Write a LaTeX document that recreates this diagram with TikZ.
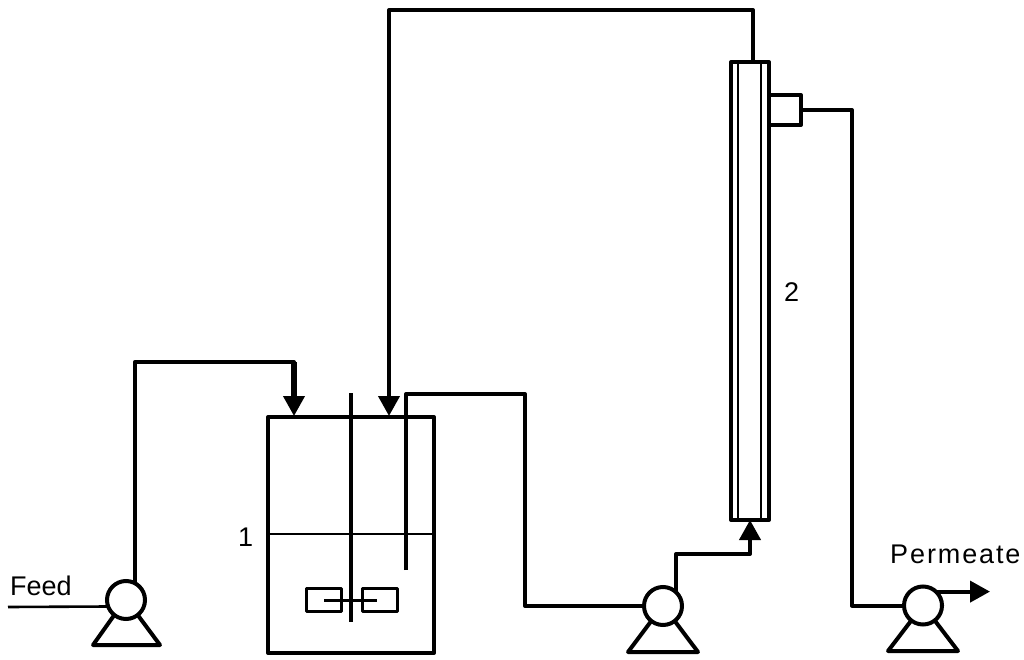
\documentclass[tikz,border=0pt]{standalone}
\usepackage{fontspec}
\setmainfont{Liberation Sans}
\usetikzlibrary{arrows.meta,calc}
\tikzset{
  pipe/.style={line width=4pt,line join=round},
  thinline/.style={line width=2.6pt},
  flow/.style={pipe,-{Triangle[length=20pt,width=21pt]}},
  pump/.style={circle,draw,line width=4pt,minimum size=38pt,inner sep=0pt,outer sep=0pt},
  vessel/.style={rectangle,draw,line width=4pt,line join=round,inner sep=0pt,outer sep=0pt},
  blade/.style={rectangle,draw,line width=3.6pt,line join=round,inner sep=0pt,outer sep=0pt,minimum width=35pt,minimum height=23pt},
  lab/.style={inner sep=0pt,anchor=base west,font=\fontsize{27}{27}\selectfont}
}
\begin{document}
\begin{tikzpicture}[x=1pt,y=-1pt]
\useasboundingbox (0,0) rectangle (1024,660);
% equipment
\node[vessel,minimum width=166pt,minimum height=236pt] (tank) at (351,535) {};
\node[vessel,minimum width=38pt,minimum height=458pt] (module) at (750,291) {};
\node[vessel,minimum width=32pt,minimum height=30pt,anchor=west] (perm) at (769,110) {};
\node[pump] (p1) at (126,600) {};
\node[pump] (p2) at (663,606) {};
\node[pump] (p3) at (923,605.5) {};
\node[blade] (bl) at (324,600) {};
\node[blade] (br) at (380,600) {};
% named free ends and bends
\coordinate (feed) at (8,607);
\coordinate (b1l) at (93,645); \coordinate (b1r) at (160,645);
\coordinate (b2l) at (628,652); \coordinate (b2r) at (698,652);
\coordinate (b3l) at (888,651); \coordinate (b3r) at (958,651);
\coordinate (shafttop) at (351,393); \coordinate (shaftend) at (351,622);
\coordinate (hubl) at (324,600); \coordinate (hubr) at (377,600);
\coordinate (dipend) at (406,570);
\coordinate (permout) at (990,591);
\coordinate (modin) at (753,62);
% pump bases
\draw[pipe] (p1.-128) -- (b1l) -- (b1r) -- (p1.-52);
\draw[pipe] (p2.-128) -- (b2l) -- (b2r) -- (p2.-52);
\draw[pipe] (p3.-128) -- (b3l) -- (b3r) -- (p3.-52);
% tank internals
\draw[thinline] (tank.west |- 0,534) -- (tank.east |- 0,534);
\draw[pipe] (shafttop) -- (shaftend);
\draw[pipe,line width=3pt] (hubl) -- (hubr);
% feed
\draw[thinline] (feed) -- (p1.200);
\draw[flow] (p1.62) |- (294,362) -- (294,416);
\draw[line width=5.5pt] (294,362) -- (294,398);
% recycle
\draw[flow] (modin) |- (389,10) -- (389,416);
% dip tube to pump 2
\draw[pipe] (dipend) |- (525,394) |- (p2.west);
% pump 2 to module
\draw[flow] (p2.47) |- (750,554) -- (module.south);
% permeate
\draw[pipe] (perm.east) -| (852,605.5) -- (p3.west);
\draw[flow] (p3.47) -- (p3.47 -| permout);
% module inner tubes
\draw[thinline] ($(module.north west)+(7,0)$) -- ($(module.south west)+(7,0)$);
\draw[thinline] ($(module.north east)+(-8,0)$) -- ($(module.south east)+(-8,0)$);
% labels
\node[lab] (lfeed) at (10,595) {Feed};
\node[lab] (lone) at (238,546) {1};
\node[lab] (ltwo) at (784,301) {2};
\node[lab] (lperm) at (890,563) {\addfontfeature{LetterSpace=7}Permeate};
\end{tikzpicture}
\end{document}
